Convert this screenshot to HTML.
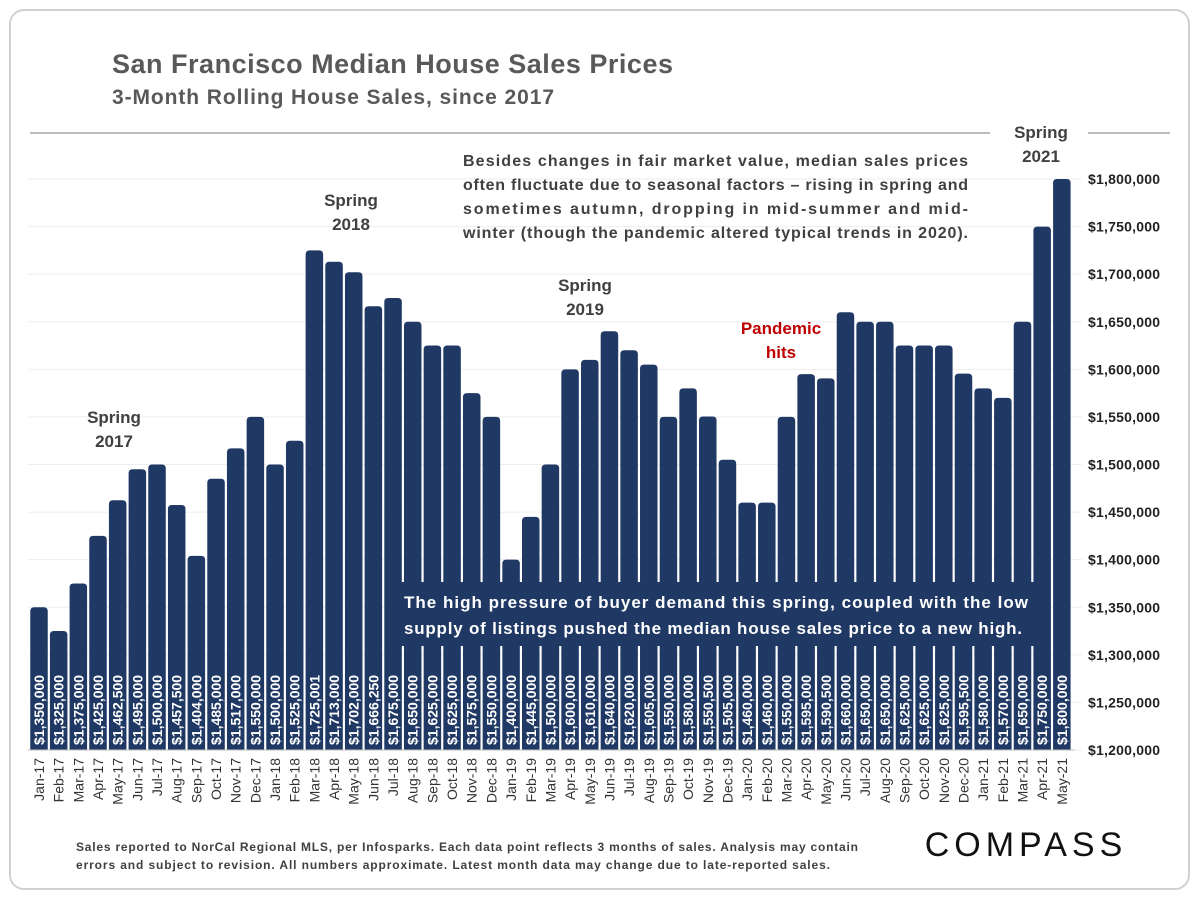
<!DOCTYPE html>
<html><head><meta charset="utf-8"><style>
body{margin:0;background:#fff;font-family:"Liberation Sans",sans-serif}
svg text{font-family:"Liberation Sans",sans-serif}
</style></head><body>
<svg id="c" width="1200" height="900" xmlns="http://www.w3.org/2000/svg">
<rect x="10" y="10" width="1179" height="879" rx="14" fill="#fff" stroke="#d0d0d0" stroke-width="2"/>
<text x="112" y="73" font-size="27" font-weight="bold" fill="#595959" textLength="561">San Francisco Median House Sales Prices</text>
<text x="112" y="104" font-size="21" font-weight="bold" fill="#595959" textLength="442">3-Month Rolling House Sales, since 2017</text>
<line x1="30" y1="133" x2="990" y2="133" stroke="#a6a6a6" stroke-width="1.5"/>
<line x1="1088" y1="133" x2="1170" y2="133" stroke="#a6a6a6" stroke-width="1.5"/>
<g id="grid"></g><g id="bars"></g><g id="yax"></g><g id="xax"></g>
<text font-size="16" font-weight="bold" fill="#404040">
<tspan x="463" y="166" textLength="505">Besides changes in fair market value, median sales prices</tspan>
<tspan x="463" y="190" textLength="505">often fluctuate due to seasonal factors – rising in spring and</tspan>
<tspan x="463" y="214" textLength="505">sometimes autumn, dropping in mid-summer and mid-</tspan>
<tspan x="463" y="238" textLength="505">winter (though the pandemic altered typical trends in 2020).</tspan></text>
<g font-size="17" font-weight="bold" fill="#404040" text-anchor="middle">
<text x="114" y="423"><tspan x="114">Spring</tspan><tspan x="114" dy="24">2017</tspan></text>
<text x="351" y="206"><tspan x="351">Spring</tspan><tspan x="351" dy="24">2018</tspan></text>
<text x="585" y="291"><tspan x="585">Spring</tspan><tspan x="585" dy="24">2019</tspan></text>
<text x="1041" y="138"><tspan x="1041">Spring</tspan><tspan x="1041" dy="24">2021</tspan></text>
<text x="781" y="334" fill="#c00000"><tspan x="781">Pandemic</tspan><tspan x="781" dy="24">hits</tspan></text>
</g>
<rect x="397" y="582" width="638" height="64" fill="#1f3864"/>
<text font-size="17" font-weight="bold" fill="#fff"><tspan x="404" y="608" textLength="624">The high pressure of buyer demand this spring, coupled with the low</tspan><tspan x="404" y="634" textLength="618">supply of listings pushed the median house sales price to a new high.</tspan></text>
<text font-size="12" font-weight="bold" fill="#404040"><tspan x="76" y="851" textLength="782">Sales reported to NorCal Regional MLS, per Infosparks. Each data point reflects 3 months of sales. Analysis may contain</tspan><tspan x="76" y="869" textLength="754">errors and subject to revision. All numbers approximate. Latest month data may change due to late-reported sales.</tspan></text>
<text x="1026" y="856" font-size="34" fill="#111" text-anchor="middle" letter-spacing="5">COMPASS</text>
</svg>
<script>
const categories=["Jan-17","Feb-17","Mar-17","Apr-17","May-17","Jun-17","Jul-17","Aug-17","Sep-17","Oct-17","Nov-17","Dec-17","Jan-18","Feb-18","Mar-18","Apr-18","May-18","Jun-18","Jul-18","Aug-18","Sep-18","Oct-18","Nov-18","Dec-18","Jan-19","Feb-19","Mar-19","Apr-19","May-19","Jun-19","Jul-19","Aug-19","Sep-19","Oct-19","Nov-19","Dec-19","Jan-20","Feb-20","Mar-20","Apr-20","May-20","Jun-20","Jul-20","Aug-20","Sep-20","Oct-20","Nov-20","Dec-20","Jan-21","Feb-21","Mar-21","Apr-21","May-21"];
const values=[1350000,1325000,1375000,1425000,1462500,1495000,1500000,1457500,1404000,1485000,1517000,1550000,1500000,1525000,1725001,1713000,1702000,1666250,1675000,1650000,1625000,1625000,1575000,1550000,1400000,1445000,1500000,1600000,1610000,1640000,1620000,1605000,1550000,1580000,1550500,1505000,1460000,1460000,1550000,1595000,1590500,1660000,1650000,1650000,1625000,1625000,1625000,1595500,1580000,1570000,1650000,1750000,1800000];
const yTicks=[1200000,1250000,1300000,1350000,1400000,1450000,1500000,1550000,1600000,1650000,1700000,1750000,1800000];
const NS="http://www.w3.org/2000/svg";
const y=v=>750-(v-1200000)*571/600000;
const step=19.67, x=i=>39+i*step, bw=17.5;
const fmt=v=>"$"+v.toLocaleString("en-US");
function mk(t,a,p){const e=document.createElementNS(NS,t);for(const k in a)e.setAttribute(k,a[k]);p.appendChild(e);return e;}
const grid=document.getElementById("grid"),bars=document.getElementById("bars"),yax=document.getElementById("yax"),xax=document.getElementById("xax");
yTicks.forEach(t=>{
 const g=mk("line",{x1:28,x2:1082,y1:y(t),y2:y(t),stroke:"#eeeeee","stroke-width":1},grid);
 
 
 const l=mk("text",{x:1088,y:y(t)+5,"font-size":14,"font-weight":"bold",fill:"#222",textLength:72},yax);
 l.textContent=fmt(t);
 
 
});
values.forEach((v,i)=>{
 const cx=x(i),top=y(v),r=4;
 const p=mk("path",{d:`M${cx-bw/2},750V${top+r}Q${cx-bw/2},${top} ${cx-bw/2+r},${top}H${cx+bw/2-r}Q${cx+bw/2},${top} ${cx+bw/2},${top+r}V750Z`,fill:"#1f3864"},bars);
 
 
 const vl=mk("text",{x:0,y:0,transform:`translate(${cx+5},745) rotate(-90)`,"font-size":14,"font-weight":"bold",fill:"#fff"},bars);
 vl.textContent=fmt(v);
 
 
 const cl=mk("text",{x:0,y:0,transform:`translate(${cx+5},758) rotate(-90)`,"font-size":14,fill:"#333","text-anchor":"end"},xax);
 cl.textContent=categories[i];
 
 
});
const ax=mk("line",{x1:28,x2:1075,y1:750,y2:750,stroke:"#bfbfbf"},xax);


</script>
</body></html>
